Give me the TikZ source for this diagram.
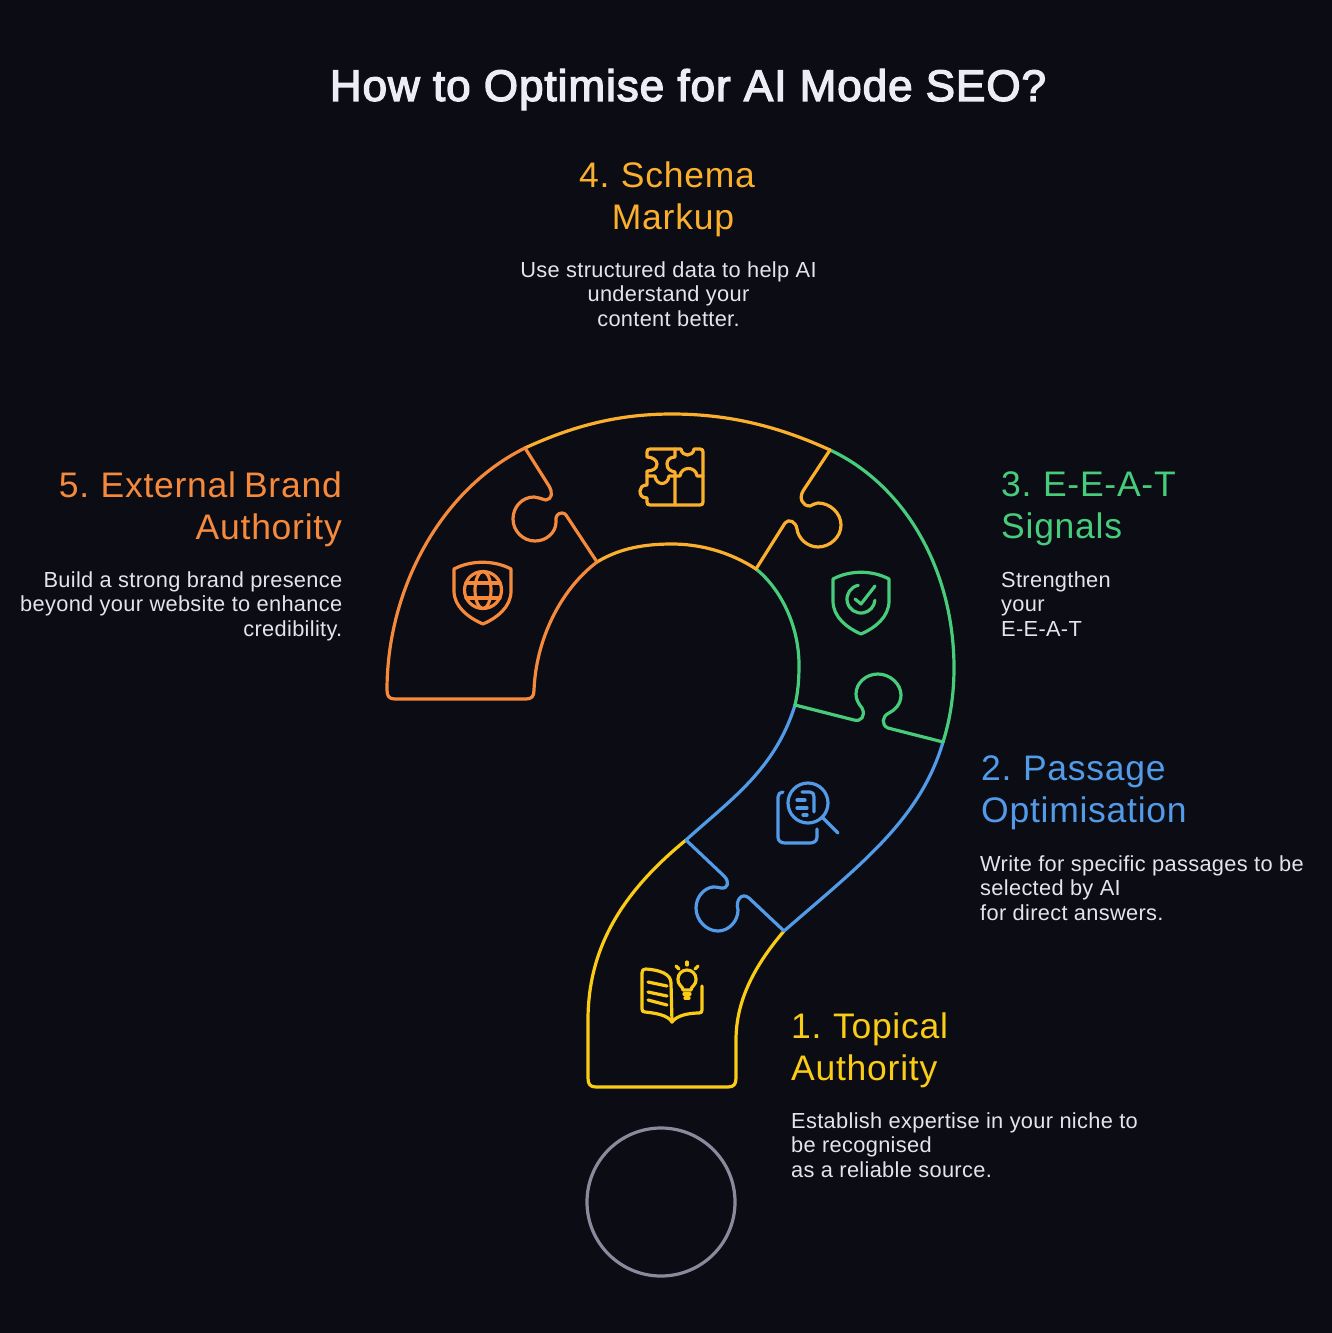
\documentclass[tikz,border=0pt]{standalone}
\usepackage{fontspec}
\setmainfont{Liberation Sans}[LetterSpace=1.5]
\newfontfamily\titlefont{Liberation Sans}[FakeBold=3,LetterSpace=2.2]
\newfontfamily\headfont{Liberation Sans}[LetterSpace=2.1,WordSpace=0.75]
\definecolor{bgdark}{HTML}{0C0C14}
\definecolor{textlight}{HTML}{E4E4EF}
\definecolor{titlelight}{HTML}{EDEDF7}
\definecolor{ringgray}{HTML}{8B8A9C}
\definecolor{topical}{HTML}{FACC15}
\definecolor{passage}{HTML}{529BE8}
\definecolor{eeat}{HTML}{47CC7C}
\definecolor{schema}{HTML}{FBB02D}
\definecolor{brand}{HTML}{F58A3C}
\tikzset{
	outline/.style={line width=3.2pt, line cap=round, line join=round},
	heading/.style={inner sep=0, font=\headfont\fontsize{35.5}{42}\selectfont},
	bodytext/.style={inner sep=0, text=textlight, font=\fontsize{21.8}{24.5}\selectfont}
}

\begin{document}
\begin{tikzpicture}[x=1pt, y=-1pt]
	\useasboundingbox (0,0) rectangle (1332,1333);
	\fill[bgdark] (0,0) rectangle (1332,1333);

	% Draw title
	\node[inner sep=0, text=titlelight, font=\titlefont\fontsize{44}{50}\selectfont] (title) at (688,89.5) {How to Optimise for AI Mode SEO?};

	% Draw segment 1
	\draw[outline, topical] (686,840) .. controls (625,890) and (588,945) .. (588,1020) -- (588,1078)
		.. controls (588,1084) and (590,1087) .. (596,1087) -- (728,1087)
		.. controls (734,1087) and (736,1084) .. (736,1078) -- (736,1040)
		.. controls (736,1000) and (755,965) .. (784,931);

	% Draw segment 2
	\draw[outline, passage] (686,840) .. controls (730,800) and (775,770) .. (795,705);
	\draw[outline, passage] (784,931) .. controls (860,865) and (920,820) .. (943,742);
	\draw[outline, passage] (686,840) -- (724,876) .. controls (730,882) and (728,889) .. (721,888)
		.. controls (717,887) and (715,887) .. (713,887)
		.. controls (704,888) and (696,897) .. (696,908)
		.. controls (696,920) and (706,931) .. (718,931)
		.. controls (729,931) and (738,921) .. (738,910)
		.. controls (735,900) and (742,892) .. (749,898) -- (784,931);

	% Draw segment 3
	\draw[outline, eeat] (756,569) .. controls (780,588) and (799,625) .. (799,665) .. controls (799,680) and (798,692) .. (795,705);
	\draw[outline, eeat] (830,450) .. controls (905,485) and (954,570) .. (954,668) .. controls (954,695) and (950,720) .. (943,742);
	\draw[outline, eeat] (795,705) -- (854,720) .. controls (861,722) and (866,716) .. (862,708)
		.. controls (858,703) and (856,699) .. (856,694)
		.. controls (856,683) and (866,674) .. (878,674)
		.. controls (890,674) and (901,684) .. (901,695)
		.. controls (901,704) and (895,710) .. (889,713)
		.. controls (882,716) and (881,725) .. (888,728) -- (943,742);

	% Draw segment 4
	\draw[outline, schema] (525,448) .. controls (575,425) and (620,414) .. (672,414) .. controls (730,414) and (780,427) .. (830,450);
	\draw[outline, schema] (597,562) .. controls (620,548) and (645,544) .. (672,544) .. controls (700,544) and (730,552) .. (756,569);
	\draw[outline, schema] (830,450) -- (803,491) .. controls (799,498) and (802,506) .. (810,506)
		.. controls (813,505) and (815,503) .. (818,503)
		.. controls (830,503) and (841,513) .. (841,525)
		.. controls (841,537) and (830,547) .. (818,547)
		.. controls (807,547) and (798,538) .. (797,529)
		.. controls (796,522) and (789,518) .. (785,523) -- (756,569);

	% Draw segment 5
	\draw[outline, brand] (525,448) .. controls (440,490) and (387,590) .. (387,690)
		.. controls (387,696) and (389,699) .. (395,699) -- (526,699)
		.. controls (532,699) and (534,696) .. (534,690)
		.. controls (536,640) and (560,590) .. (597,562);
	\draw[outline, brand] (525,448) -- (549,486) .. controls (553,493) and (552,499) .. (546,500)
		.. controls (541,499) and (538,497) .. (534,497)
		.. controls (522,497) and (513,507) .. (513,519)
		.. controls (513,531) and (523,541) .. (535,541)
		.. controls (547,541) and (556,532) .. (556,522)
		.. controls (555,516) and (558,513) .. (562,513)
		.. controls (564,513) and (565,514) .. (566,515) -- (597,562);

	% Draw dot of question mark
	\draw[line width=3.2pt, ringgray] (661,1202) circle (74);

	% Draw book icon
	\draw[outline, topical] (642,973) .. controls (642,970) and (643,969) .. (646,969) .. controls (660,970) and (671,974) .. (671,983) -- (672,1022);
	\draw[outline, topical] (642,973) -- (642,1009) .. controls (642,1011) and (643,1012) .. (645,1012) .. controls (655,1013) and (668,1015) .. (672,1022)
		.. controls (677,1015) and (690,1013) .. (699,1013) .. controls (701,1013) and (702,1012) .. (702,1010) -- (702,986);
	\draw[outline, topical] (648,982) -- (667,986);
	\draw[outline, topical] (648,992) -- (667,996);
	\draw[outline, topical] (648,1000) -- (667,1005);
	\draw[outline, topical] (683,990) .. controls (683,986) and (678,986) .. (678,979) .. controls (678,974) and (682,970) .. (687,970)
		.. controls (692,970) and (696,974) .. (696,979) .. controls (696,986) and (691,986) .. (691,990) -- cycle;
	\draw[outline, topical] (684,994) -- (690,994);
	\draw[outline, topical] (685,998) -- (689,998);
	\draw[outline, topical] (687,962) -- (687,965);
	\draw[outline, topical] (676,966) -- (679,969);
	\draw[outline, topical] (698,966) -- (695,969);

	% Draw search icon
	\draw[outline, passage] (783,792) .. controls (780,792) and (778,794) .. (778,797) -- (778,837) .. controls (778,841) and (781,843) .. (785,843)
		-- (810,843) .. controls (814,843) and (817,841) .. (817,837) -- (817,829);
	\draw[outline, passage] (808,803) circle (20);
	\draw[outline, passage] (823,818) -- (838,833);
	\draw[outline, passage] (802,792) -- (810,792) .. controls (813,792) and (814,794) .. (814,797) -- (814,812);
	\draw[outline, passage] (797,800) -- (805,800);
	\draw[outline, passage] (797,808) -- (807,808);
	\draw[outline, passage] (803,815) -- (807,815);

	% Draw shield icon with check
	\draw[outline, eeat] (833,579) .. controls (850,570) and (872,570) .. (889,579) -- (889,601)
		.. controls (889,617) and (875,628) .. (861,634) .. controls (847,628) and (833,617) .. (833,601) -- cycle;
	\draw[outline, eeat] (858.3,585.3) arc[start angle=259, end angle=5, radius=14];
	\draw[outline, eeat] (855,599) -- (861,604) -- (875,586);

	% Draw puzzle icon
	\draw[outline, schema] (650,449) -- (681,449) .. controls (682,457) and (693,457) .. (694,449) -- (700,449) .. controls (702,449) and (703,450) .. (703,452) -- (703,502)
		.. controls (703,504) and (702,505) .. (700,505) -- (650,505) .. controls (648,505) and (647,504) .. (647,502) -- (647,498)
		.. controls (641,498) and (640,494) .. (640,491) .. controls (640,488) and (642,485) .. (647,485) -- (647,471)
		.. controls (652,471) and (657,469) .. (657,464) .. controls (657,460) and (652,457) .. (647,457) -- (647,452) .. controls (647,450) and (648,449) .. (650,449) -- cycle;
	\draw[outline, schema] (675,449) -- (675,457) .. controls (670,457) and (667,460) .. (667,464) .. controls (667,469) and (670,471) .. (675,472) -- (675,505);
	\draw[outline, schema] (647,476) -- (655,476) .. controls (656,486) and (668,486) .. (669,476) -- (680,476) .. controls (681,466) and (696,466) .. (697,476) -- (703,476);

	% Draw shield icon with globe
	\draw[outline, brand] (454,569) .. controls (471,560) and (494,560) .. (511,569) -- (511,591)
		.. controls (511,607) and (497,618) .. (483,624) .. controls (469,618) and (454,607) .. (454,591) -- cycle;
	\draw[outline, brand] (483,590) circle (18.5);
	\draw[outline, brand] (483,590) ellipse (8 and 18.5);
	\draw[outline, brand] (466,583) -- (500,583);
	\draw[outline, brand] (466,598) -- (500,598);

	% Draw text
	\node[heading, text=schema, align=center, anchor=north] (schemahead) at (670,162) {4. Schema\hspace*{6pt}\\\hspace*{6pt}Markup};
	\node[bodytext, align=center, anchor=north] (schemabody) at (668.5,261) {Use structured data to help AI\\understand your\hspace*{5pt}\\content better.};

	\node[heading, text=brand, align=right, anchor=north east] (brandhead) at (342,472) {5. External Brand\\Authority};
	\node[bodytext, align=right, anchor=north east] (brandbody) at (342.5,571) {Build a strong brand presence\\beyond your website to enhance\\credibility.};

	\node[heading, text=eeat, align=left, anchor=north west] (eeathead) at (1001,472) {3. E-E-A-T\\Signals};
	\node[bodytext, align=left, anchor=north west] (eeatbody) at (1001,571) {Strengthen\\your\\E-E-A-T};

	\node[heading, text=passage, align=left, anchor=north west] (passagehead) at (981,756) {2. Passage\\Optimisation};
	\node[bodytext, align=left, anchor=north west] (passagebody) at (980,855) {Write for specific passages to be\\selected by AI\\for direct answers.};

	\node[heading, text=topical, align=left, anchor=north west] (topicalhead) at (791,1013) {1. Topical\\Authority};
	\node[bodytext, align=left, anchor=north west] (topicalbody) at (791,1112) {Establish expertise in your niche to\\be recognised\\as a reliable source.};
\end{tikzpicture}
\end{document}
